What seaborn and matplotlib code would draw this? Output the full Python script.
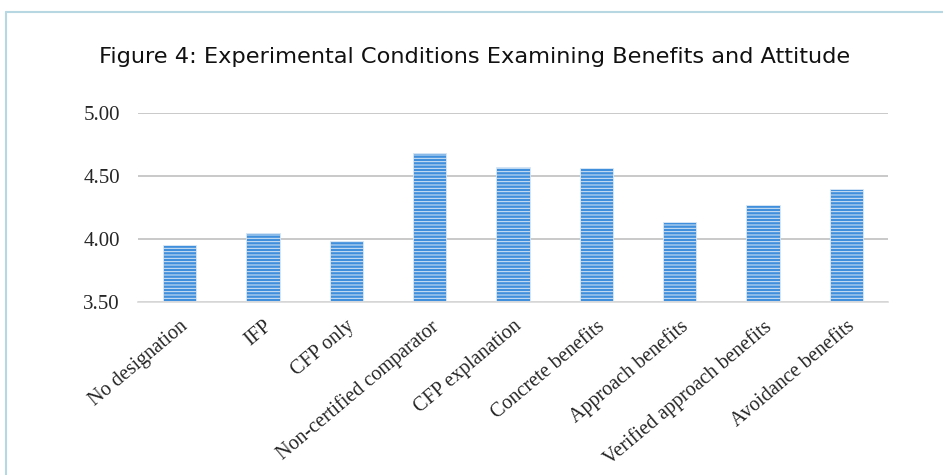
import pandas as pd
import matplotlib.pyplot as plt
import seaborn as sns
from matplotlib.lines import Line2D

# Values
conditions = ['No designation', 'IFP', 'CFP only', 'Non-certified comparator',
              'CFP explanation', 'Concrete benefits', 'Approach benefits',
              'Verified approach benefits', 'Avoidance benefits']
scores = [3.95, 4.045, 3.98, 4.68, 4.567, 4.561, 4.13, 4.27, 4.39]
y_ticks = [3.50, 4.00, 4.50, 5.00]

df = pd.DataFrame({'Condition': conditions, 'Score': scores})

sns.set_theme(style='white')
plt.rcParams['hatch.color'] = 'white'
plt.rcParams['hatch.linewidth'] = 0.7

fig = plt.figure(figsize=(9.43, 4.75), dpi=100)
ax = fig.add_axes([0.1463, 0.3650, 0.7954, 0.3979])

sns.barplot(data=df, x='Condition', y='Score', ax=ax, color='#3f8fdc',
            saturation=1, width=0.40, edgecolor='#dbe9f6', linewidth=0.6,
            hatch='-----')

ax.set_ylim(3.5, 5.0)
ax.set_yticks(y_ticks)
ax.set_yticklabels([f'{v:.2f}' for v in y_ticks], fontfamily='Liberation Serif', fontsize=15)
ax.set_xticks(range(len(conditions)))
ax.set_xticklabels(conditions, rotation=40, ha='right', va='top', rotation_mode='anchor',
                   fontfamily='Liberation Serif', fontsize=14.5)
ax.set_xlabel('')
ax.set_ylabel('')
ax.tick_params(axis='y', length=0, pad=13)
ax.tick_params(axis='x', length=0, pad=11)
ax.yaxis.grid(True, color='#c0c0c0', linewidth=1.2)
ax.set_axisbelow(True)
for side in ['top', 'right', 'left']:
    ax.spines[side].set_visible(False)
ax.spines['bottom'].set_color('#d9d9d9')
ax.spines['bottom'].set_linewidth(1.2)

fig.text(0.503, 0.88, 'Figure 4: Experimental Conditions Examining Benefits and Attitude',
         ha='center', va='center', fontsize=16.2, fontfamily='DejaVu Sans', color='#111111')

# light blue frame (left and top edges)
fig.add_artist(Line2D([0.0064, 0.0064], [0, 0.975], color='#b7d7e3', linewidth=1.5))
fig.add_artist(Line2D([0.0064, 1.0], [0.975, 0.975], color='#b7d7e3', linewidth=1.5))

plt.savefig('out.png', dpi=100)
